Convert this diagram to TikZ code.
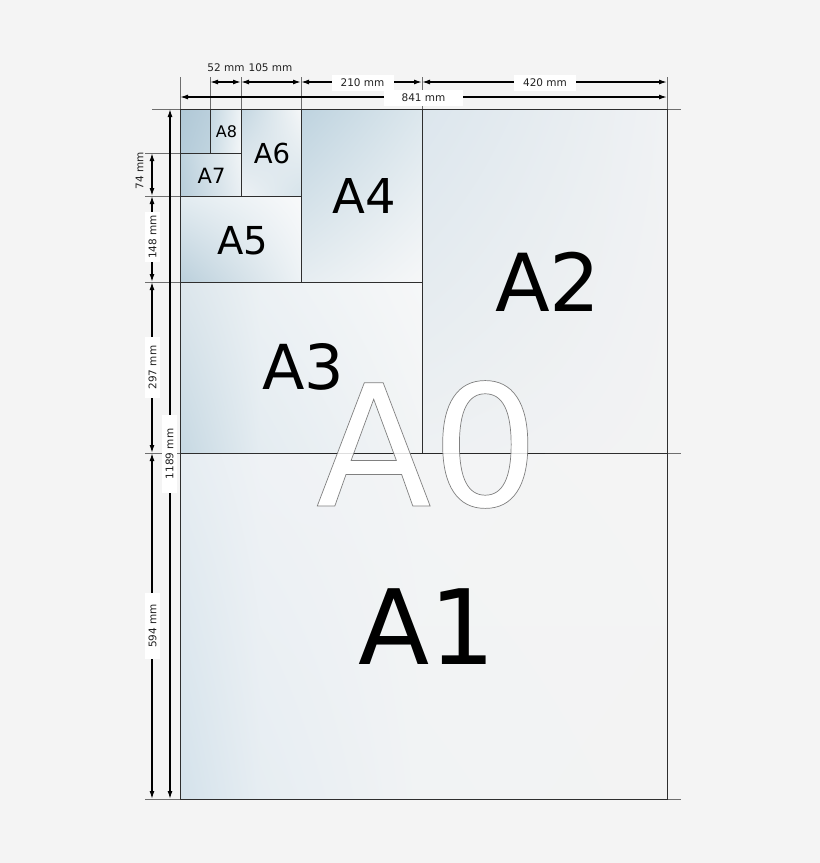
\documentclass[tikz,border=0pt]{standalone}
\usepackage{fontspec}
\setmainfont{DejaVu Sans}
\usetikzlibrary{shadings,arrows.meta}
\definecolor{bgc}{HTML}{F4F4F4}
\definecolor{edgec}{HTML}{2E2E2E}
\definecolor{extc}{HTML}{6E6E6E}
\definecolor{dimtext}{HTML}{222222}
\newcommand\sheetshade[6]{%
  \definecolor{shUL}{HTML}{#3}\definecolor{shUR}{HTML}{#4}%
  \definecolor{shLL}{HTML}{#5}\definecolor{shLR}{HTML}{#6}%
  \shade[upper left=shUL,upper right=shUR,lower left=shLL,lower right=shLR] (#1) rectangle (#2);}
\tikzset{
  sheet/.style={draw=edgec, line width=1pt},
  extline/.style={draw=extc, line width=0.8pt},
  dimarrow/.style={draw=black, line width=1.35pt, {Latex[length=8pt,width=5pt]}-{Latex[length=8pt,width=5pt]}},
  dimlbl/.style={fill=white, inner sep=0pt, font=\fontsize{10.5}{12}\selectfont, text=dimtext, minimum height=16pt},
  dimtxt/.style={inner sep=0pt, font=\fontsize{10.5}{12}\selectfont, text=dimtext},
  big/.style={anchor=base, inner sep=0pt, text=black},
}
\begin{document}
\begin{tikzpicture}[x=1pt,y=-1pt]
\useasboundingbox (0,0) rectangle (820,863);
\fill[bgc] (0,0) rectangle (820,863);
% sheet corners
\coordinate (a0nw) at (180,109); \coordinate (a0se) at (667,799);
\coordinate (a9nw) at (180,109); \coordinate (a9se) at (210,153);
\coordinate (a8nw) at (210,109); \coordinate (a8se) at (241,153);
\coordinate (a7nw) at (180,153); \coordinate (a7se) at (241,196);
\coordinate (a6nw) at (241,109); \coordinate (a6se) at (301,196);
\coordinate (a5nw) at (180,196); \coordinate (a5se) at (301,282);
\coordinate (a4nw) at (301,109); \coordinate (a4se) at (422,282);
\coordinate (a3nw) at (180,282); \coordinate (a3se) at (422,453);
\coordinate (a2nw) at (422,109); \coordinate (a2se) at (667,453);
\coordinate (a1nw) at (180,453); \coordinate (a1se) at (667,799);
% split points for the piecewise shading of A3 and A1
\coordinate (s3a) at (260,453); \coordinate (s3b) at (260,282);
\coordinate (s1a) at (260,799); \coordinate (s1b) at (260,453);
\coordinate (s1c) at (420,799); \coordinate (s1d) at (420,453);
% shadings
\sheetshade{a9nw}{a9se}{B0C8D6}{BACFDC}{B4CBD9}{C0D4DF}
\sheetshade{a8nw}{a8se}{C4D7E1}{EEF3F6}{CBDCE5}{F3F6F8}
\sheetshade{a7nw}{a7se}{BDD2DE}{F0F4F6}{B7CDDA}{E9EFF3}
\sheetshade{a6nw}{a6se}{C3D6E1}{F5F7F8}{EEF2F5}{D6E3EA}
\sheetshade{a5nw}{a5se}{E3ECF1}{F8F9FA}{BACFDB}{EDF2F5}
\sheetshade{a4nw}{a4se}{BED3DF}{DCE7ED}{E6EDF1}{F6F7F8}
\sheetshade{a3nw}{s3a}{DCE6EC}{ECF1F4}{C6D8E2}{E4ECF1}
\sheetshade{s3b}{a3se}{ECF1F4}{F6F7F8}{E4ECF1}{F2F4F5}
\sheetshade{a2nw}{a2se}{DCE6ED}{F0F2F4}{EEF1F3}{F3F3F3}
\sheetshade{a1nw}{s1a}{E6EDF2}{EFF2F5}{D4E2EB}{E6EDF2}
\sheetshade{s1b}{s1c}{EFF2F5}{F3F4F5}{E6EDF2}{F1F3F4}
\sheetshade{s1d}{a1se}{F3F4F5}{F4F4F4}{F1F3F4}{F3F3F3}
% extension lines
\coordinate (tA) at (180,77); \coordinate (tB) at (210,77); \coordinate (tC) at (241,77);
\coordinate (tD) at (301,77); \coordinate (tE) at (422,77); \coordinate (tF) at (667,77);
\coordinate (bA) at (180,109); \coordinate (bB) at (210,109); \coordinate (bC) at (241,109);
\coordinate (bD) at (301,109); \coordinate (bE) at (422,109); \coordinate (bF) at (667,109);
\draw[extline] (tA) -- (bA); \draw[extline] (tB) -- (bB); \draw[extline] (tC) -- (bC);
\draw[extline] (tD) -- (bD); \draw[extline] (tE) -- (bE); \draw[extline] (tF) -- (bF);
\coordinate (lTop) at (152,109); \coordinate (rTop) at (681,109);
\coordinate (l153) at (145,153); \coordinate (r153) at (180,153);
\coordinate (l196) at (145,196); \coordinate (r196) at (180,196);
\coordinate (l282) at (145,282); \coordinate (r282) at (180,282);
\coordinate (l453) at (145,453); \coordinate (r453) at (681,453);
\coordinate (l799) at (145,799); \coordinate (r799) at (681,799);
\draw[extline] (lTop) -- (rTop);
\draw[extline] (l153) -- (r153);
\draw[extline] (l196) -- (r196);
\draw[extline] (l282) -- (r282);
\draw[extline] (l453) -- (r453);
\draw[extline] (l799) -- (r799);
% sheet borders
\draw[sheet] (a9nw) rectangle (a9se);
\draw[sheet] (a8nw) rectangle (a8se);
\draw[sheet] (a7nw) rectangle (a7se);
\draw[sheet] (a6nw) rectangle (a6se);
\draw[sheet] (a5nw) rectangle (a5se);
\draw[sheet] (a4nw) rectangle (a4se);
\draw[sheet] (a3nw) rectangle (a3se);
\draw[sheet] (a2nw) rectangle (a2se);
\draw[sheet] (a1nw) rectangle (a1se);
\draw[sheet] (a0nw) rectangle (a0se);
% A0 outlined (text render mode: fill and stroke)
\node[big, font=\fontsize{169}{169}\selectfont, text=white] (tA0) at (427.5,506)
  {\special{pdf:literal direct 2 Tr 0.7 w 0.5 0.5 0.5 RG}A0\special{pdf:literal direct 0 Tr}};
\draw[black, opacity=0.13, line width=0.8pt] (300,453) -- (545,453);
% sheet labels
\node[big, font=\fontsize{104}{104}\selectfont] (tA1) at (427,664) {A1};
\node[big, font=\fontsize{80}{80}\selectfont] (tA2) at (548,311) {A2};
\node[big, font=\fontsize{62}{62}\selectfont] (tA3) at (303,389) {A3};
\node[big, font=\fontsize{48}{48}\selectfont] (tA4) at (364,213) {A4};
\node[big, font=\fontsize{38.5}{38.5}\selectfont] (tA5) at (242.5,254) {A5};
\node[big, font=\fontsize{27.5}{27.5}\selectfont] (tA6) at (272,163) {A6};
\node[big, font=\fontsize{21}{21}\selectfont] (tA7) at (211.5,183) {A7};
\node[big, font=\fontsize{16}{16}\selectfont] (tA8) at (226.5,137) {A8};
% top dimensions
\coordinate (h1) at (210,82); \coordinate (h2) at (241,82); \coordinate (h3) at (301,82);
\coordinate (h4) at (422,82); \coordinate (h5) at (667,82);
\coordinate (g1) at (180,97); \coordinate (g2) at (667,97);
\draw[dimarrow] (h1) -- (h2);
\draw[dimarrow] (h2) -- (h3);
\draw[dimarrow] (h3) -- (h4);
\draw[dimarrow] (h4) -- (h5);
\draw[dimarrow] (g1) -- (g2);
\node[dimtxt] (d52) at (226,68) {52 mm};
\node[dimtxt] (d105) at (270.5,68) {105 mm};
\node[dimlbl, minimum width=62pt] (d210) at (362.5,82.5) {210 mm};
\node[dimlbl, minimum width=62pt] (d420) at (545,82.5) {420 mm};
\node[dimlbl, minimum width=79pt] (d841) at (423.5,97.5) {841 mm};
% left dimensions
\coordinate (v1) at (152,153); \coordinate (v2) at (152,196); \coordinate (v3) at (152,282);
\coordinate (v4) at (152,453); \coordinate (v5) at (152,799);
\coordinate (w1) at (170,109); \coordinate (w2) at (170,799);
\draw[dimarrow] (v1) -- (v2);
\draw[dimarrow] (v2) -- (v3);
\draw[dimarrow] (v3) -- (v4);
\draw[dimarrow] (v4) -- (v5);
\draw[dimarrow] (w1) -- (w2);
\node[dimtxt, rotate=90] (d74) at (139.5,171) {74 mm};
\node[dimlbl, rotate=90, minimum width=50pt, minimum height=15pt] (d148) at (152.5,237) {148 mm};
\node[dimlbl, rotate=90, minimum width=61pt, minimum height=15pt] (d297) at (152.5,367.5) {297 mm};
\node[dimlbl, rotate=90, minimum width=66pt, minimum height=15pt] (d594) at (152.5,626) {594 mm};
\node[dimlbl, rotate=90, minimum width=78pt, minimum height=15pt] (d1189) at (169.5,454) {1189 mm};
\end{tikzpicture}
\end{document}
